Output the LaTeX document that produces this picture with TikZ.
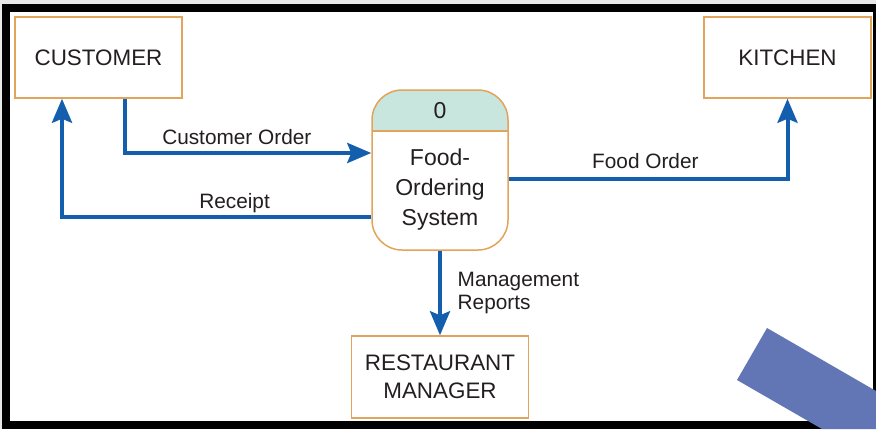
\documentclass[tikz,border=0pt]{standalone}
\usepackage{fontspec}
\setmainfont{Liberation Sans}
\usetikzlibrary{positioning,arrows.meta}

\definecolor{flowblue}{RGB}{20,94,174}
\definecolor{boxorange}{RGB}{226,164,92}
\definecolor{headteal}{RGB}{200,229,222}
\definecolor{inkgray}{RGB}{35,31,32}
\definecolor{slateblue}{RGB}{98,118,182}
\definecolor{framegray}{RGB}{232,232,232}

\begin{document}
\begin{tikzpicture}[x=0.5pt, y=-0.5pt, node distance=344.5pt,
    ent node/.style={rectangle, draw=boxorange, line width=0.75pt, minimum width=83.5pt,
                     minimum height=40.5pt, text=inkgray, align=center,
                     font=\fontsize{11.2}{14}\selectfont},
    proc node/.style={rectangle, rounded corners=15pt, draw=boxorange, line width=0.75pt,
                      minimum width=68pt, minimum height=80pt, fill=white,
                      path picture={\fill[headteal, sharp corners] (path picture bounding box.north west)
                        rectangle ([yshift=-20.5pt]path picture bounding box.north east);
                        \draw[boxorange, line width=0.75pt, sharp corners] ([yshift=-20.5pt]path picture bounding box.north west)
                        -- ([yshift=-20.5pt]path picture bounding box.north east);}},
    proc text/.style={text=inkgray, align=center, font=\fontsize{11.5}{15}\selectfont},
    flow/.style={draw=flowblue, line width=2pt, -{Stealth[length=12pt,width=10pt,inset=2pt]}},
    lbl/.style={text=inkgray, font=\fontsize{10.4}{11.5}\selectfont}]

  \useasboundingbox (0,0) rectangle (876,429);
  % frame
  \fill[framegray] (0,0) rectangle (876,429);
  \fill[black] (2,4) rectangle (876,429);
  \fill[white] (10,12) rectangle (873,421);

  \node[ent node] (cust) at (98.5,57.5) {CUSTOMER};
  \node[ent node] (kit) [right of=cust] {KITCHEN};
  \node[proc node] (proc) at (440,170) {};
  \node[proc text] (pnum) at (440,111) {0};
  \node[proc text] (pname) at (440,190) {Food-\\Ordering\\System};
  \node[ent node, minimum width=88.5pt, minimum height=41pt] (mgr) [below of=proc, node distance=103.5pt] {RESTAURANT\\MANAGER};

  \draw[flow] ([xshift=13.25pt]cust.south) |- ([yshift=8.5pt]proc.west)
     node[lbl, above, pos=0.727] {Customer Order};
  \draw[flow] ([yshift=-23.5pt]proc.west) -| ([xshift=-18.25pt]cust.south)
     node[lbl, above, pos=0.221, yshift=-2pt] {Receipt};
  \draw[flow] ([yshift=-4.5pt]proc.east) -| (kit.south)
     node[lbl, above, pos=0.245, yshift=1pt] {Food Order};
  \draw[flow] (proc.south) -- (proc.south |- mgr.north)
     node[lbl, right, align=left, pos=0.5, xshift=4.5pt] {Management\\Reports};

  % corner band
  \fill[slateblue] (767,328) -- (737,380) -- (822,429) -- (876,429) -- (876,391) -- cycle;
\end{tikzpicture}
\end{document}
